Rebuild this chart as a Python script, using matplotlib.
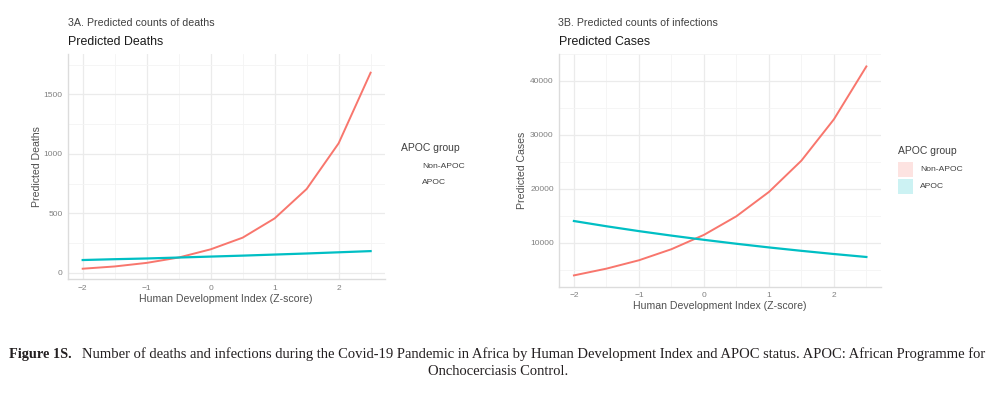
import matplotlib
matplotlib.use("Agg")
import matplotlib.pyplot as plt
from matplotlib.patches import Rectangle
from matplotlib.ticker import FixedLocator

# ---------------- data ----------------
hdi = [-2.0, -1.5, -1.0, -0.5, 0.0, 0.5, 1.0, 1.5, 2.0, 2.5]
deaths_non_apoc = [34, 53, 83, 128, 197, 295, 457, 704, 1088, 1682]
deaths_apoc = [107, 114, 120, 128, 136, 144, 153, 162, 172, 182]
cases_non_apoc = [4000, 5250, 6800, 8850, 11500, 14950, 19450, 25250, 32900, 42700]
cases_apoc = [14070, 13100, 12200, 11370, 10590, 9860, 9180, 8550, 7960, 7410]
groups = ["Non-APOC", "APOC"]
x_ticks = [-2, -1, 0, 1, 2]
x_tick_labels = ["\u22122", "\u22121", "0", "1", "2"]
deaths_ticks = [0, 500, 1000, 1500]
cases_ticks = [10000, 20000, 30000, 40000]

RED = "#F8766D"
CYAN = "#00BFC4"
W, H = 998, 393

plt.rcParams["font.family"] = ["Liberation Sans", "DejaVu Sans"]
fig = plt.figure(figsize=(W / 100, H / 100), dpi=100)
fig.patch.set_facecolor("white")


def fx(x):
    return x / W


def fy(y):
    return 1 - y / H


def make_axes(x0, x1, ytop, ybot):
    return fig.add_axes([fx(x0), fy(ybot), fx(x1 - x0), (ybot - ytop) / H])


def style(ax, yticks, ymin, ymax, yminor):
    ax.set_xlim(-2.225, 2.725)
    ax.set_ylim(ymin, ymax)
    ax.xaxis.set_major_locator(FixedLocator(x_ticks))
    ax.xaxis.set_minor_locator(FixedLocator([-1.5, -0.5, 0.5, 1.5, 2.5]))
    ax.yaxis.set_major_locator(FixedLocator(yticks))
    ax.yaxis.set_minor_locator(FixedLocator(yminor))
    ax.grid(which="major", color="#EBEBEB", lw=0.9)
    ax.grid(which="minor", color="#F4F4F4", lw=0.6)
    ax.set_axisbelow(True)
    for s in ["top", "right"]:
        ax.spines[s].set_visible(False)
    for s in ["left", "bottom"]:
        ax.spines[s].set_color("#DCDCDC")
        ax.spines[s].set_linewidth(1.0)
    ax.tick_params(which="both", length=0, labelsize=6.0, labelcolor="#808080")
    ax.tick_params(axis="y", pad=4)
    ax.tick_params(axis="x", pad=4)
    ax.set_xticklabels(x_tick_labels)


# ---------------- left panel ----------------
axL = make_axes(68.3, 385, 54, 279.3)
axL.plot(hdi, deaths_non_apoc, color=RED, lw=1.4)
axL.plot(hdi, deaths_apoc, color=CYAN, lw=1.6)
style(axL, deaths_ticks, -55, 1839, [250, 750, 1250, 1750])

# ---------------- right panel ----------------
axR = make_axes(559.3, 881, 54, 286.7)
axR.plot(hdi, cases_non_apoc, color=RED, lw=1.4)
axR.plot(hdi, cases_apoc, color=CYAN, lw=1.6)
style(axR, cases_ticks, 1907, 45000, [5000, 15000, 25000, 35000, 45000])

# ---------------- titles ----------------
fig.text(fx(68), fy(23), "3A. Predicted counts of deaths", fontsize=7.7,
         color="#404040", ha="left", va="center")
fig.text(fx(68), fy(42), "Predicted Deaths", fontsize=8.9,
         color="#1A1A1A", ha="left", va="center")
fig.text(fx(558), fy(23), "3B. Predicted counts of infections", fontsize=7.7,
         color="#404040", ha="left", va="center")
fig.text(fx(559), fy(42), "Predicted Cases", fontsize=8.9,
         color="#1A1A1A", ha="left", va="center")

# axis labels
fig.text(fx(226), fy(299), "Human Development Index (Z-score)", fontsize=7.6,
         color="#505050", ha="center", va="center")
fig.text(fx(720), fy(306), "Human Development Index (Z-score)", fontsize=7.6,
         color="#505050", ha="center", va="center")
fig.text(fx(37), fy(167), "Predicted Deaths", fontsize=7.6, rotation=90,
         color="#505050", ha="center", va="center")
fig.text(fx(522), fy(170), "Predicted Cases", fontsize=7.6, rotation=90,
         color="#505050", ha="center", va="center")

# ---------------- legends ----------------
fig.text(fx(401), fy(148), "APOC group", fontsize=7.5, color="#404040",
         ha="left", va="center")
for i, g in enumerate(groups):
    fig.text(fx(422), fy(166 + 16 * i), g, fontsize=6.1, color="#404040",
             ha="left", va="center")

fig.text(fx(898), fy(151), "APOC group", fontsize=7.5, color="#404040",
         ha="left", va="center")
key_colors = ["#FDE3E1", "#CCF2F3"]
for i, g in enumerate(groups):
    top = 162 + 17 * i
    fig.patches.append(Rectangle((fx(898), fy(top + 15)), fx(15), 15 / H,
                                 transform=fig.transFigure,
                                 facecolor=key_colors[i], edgecolor="none"))
    fig.text(fx(920), fy(top + 7.5), g, fontsize=6.1, color="#404040",
             ha="left", va="center")

# ---------------- caption ----------------
serif = ["Liberation Serif", "DejaVu Serif"]
cap_bold = "Figure 1S."
cap_rest = ("Number of deaths and infections during the Covid-19 Pandemic in Africa "
            "by Human Development Index and APOC status. APOC: African Programme for")
cap_line2 = "Onchocerciasis Control."

t_bold = fig.text(fx(9), fy(358), cap_bold, family=serif, fontweight="bold",
                  fontsize=10.5, color="#231F20", ha="left", va="baseline")
t_rest = fig.text(fx(82), fy(358), cap_rest, family=serif, fontsize=10.5,
                  color="#231F20", ha="left", va="baseline")
t_l2 = fig.text(fx(498), fy(375), cap_line2, family=serif, fontsize=10.5,
                color="#231F20", ha="center", va="baseline")

# fit caption font size to the reference line width
fig.canvas.draw()
r = fig.canvas.get_renderer()
wrest = t_rest.get_window_extent(r).width
fs = 10.5 * (991 - 82) / wrest
t_rest.set_fontsize(fs)
t_l2.set_fontsize(fs)
wb = t_bold.get_window_extent(r).width
t_bold.set_fontsize(10.5 * (72 - 9) / wb)

fig.savefig("out.png", dpi=100, facecolor="white")
